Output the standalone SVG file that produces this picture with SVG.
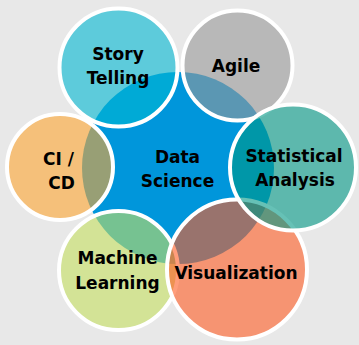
<svg xmlns="http://www.w3.org/2000/svg" width="359" height="345" viewBox="0 0 359 345">
<style>
.sat{fill-opacity:0.6;stroke:#ffffff;stroke-width:4}
.lbl{font-family:"DejaVu Sans",Verdana,sans-serif;font-weight:bold;font-size:17px;fill:#000000;text-anchor:middle}
</style>
<rect x="0" y="0" width="359" height="345" fill="#e8e8e8"/>
<g id="data-science">
<circle cx="178" cy="168" r="96" fill="#0096db"/>
</g>
<g id="story-telling">
<circle class="sat" cx="118.5" cy="67.5" r="59" fill="#00b8d2"/>
</g>
<g id="agile">
<circle class="sat" cx="237.5" cy="65.5" r="55" fill="#979797"/>
</g>
<g id="ci-cd">
<circle class="sat" cx="60" cy="167" r="53" fill="#fea531"/>
</g>
<g id="machine-learning">
<circle class="sat" cx="118.5" cy="270.5" r="59.5" fill="#c5e05f"/>
</g>
<g id="visualization">
<circle class="sat" cx="237" cy="269.5" r="70" fill="#ff5c23"/>
</g>
<g id="statistical-analysis">
<circle class="sat" cx="293" cy="167.5" r="63" fill="#009886"/>
</g>
<g id="connectors"></g>
<g id="labels">
<text class="lbl" x="177.5" y="163">Data</text>
<text class="lbl" x="177.5" y="187">Science</text>
<text class="lbl" x="118" y="60">Story</text>
<text class="lbl" x="118" y="84">Telling</text>
<text class="lbl" x="236" y="72">Agile</text>
<text class="lbl" x="294" y="162">Statistical</text>
<text class="lbl" x="295" y="186">Analysis</text>
<text class="lbl" x="236" y="279">Visualization</text>
<text class="lbl" x="117.5" y="264">Machine</text>
<text class="lbl" x="117.5" y="289">Learning</text>
<text class="lbl" x="58.5" y="165">CI /</text>
<text class="lbl" x="61.5" y="189">CD</text>
</g>
</svg>
